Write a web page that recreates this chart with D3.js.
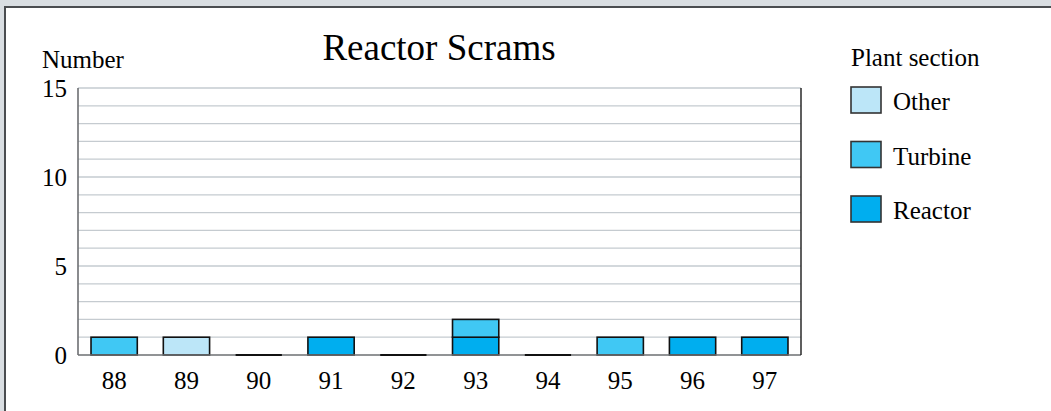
<!DOCTYPE html>
<html>
<head>
<meta charset="utf-8">
<script src="https://cdn.jsdelivr.net/npm/d3@7"></script>
<style>
  html, body { margin: 0; padding: 0; background: #d9dee2; overflow: hidden; }
  #chart { position: absolute; left: 0; top: 0; }
  text { font-family: "Liberation Serif", "Times New Roman", serif; fill: #000; }
</style>
</head>
<body>
<div id="chart"></div>
<script>
const years = ["88", "89", "90", "91", "92", "93", "94", "95", "96", "97"];
const reactor = [0, 0, 0, 1, 0, 1, 0, 0, 1, 1];
const turbine = [1, 0, 0, 0, 0, 1, 0, 1, 0, 0];
const other   = [0, 1, 0, 0, 0, 0, 0, 0, 0, 0];
const sections = ["Reactor", "Turbine", "Other"];
const legendOrder = ["Other", "Turbine", "Reactor"];
const yTicks = [0, 5, 10, 15];

const W = 1051, H = 411;
const margin = {top: 88, right: 250, bottom: 56, left: 78};
const width = 801 - margin.left;
const height = 355 - margin.top;

const color = d3.scaleOrdinal()
    .domain(["Other", "Turbine", "Reactor"])
    .range(["#bce6f8", "#40c8f4", "#00aeef"]);

const svgRoot = d3.select("#chart")
    .append("svg")
    .attr("width", W)
    .attr("height", H);

// white panel with border
svgRoot.append("rect")
    .attr("x", 5).attr("y", 7)
    .attr("width", W + 10).attr("height", H + 10)
    .attr("fill", "#fff")
    .attr("stroke", "#4a4d50")
    .attr("stroke-width", 2);

const svg = svgRoot.append("g")
    .attr("transform", `translate(${margin.left},${margin.top})`);

// Scales
const x = d3.scaleBand().domain(years).range([0, width]).paddingInner(0.36).paddingOuter(0.18);
const y = d3.scaleLinear().domain([0, 15]).range([height, 0]);

// Grid lines every 1
svg.append("g")
    .selectAll("line")
    .data(d3.range(1, 16))
    .join("line")
    .attr("x1", 0).attr("x2", width)
    .attr("y1", d => y(d)).attr("y2", d => y(d))
    .attr("stroke", "#c5cbd0")
    .attr("stroke-width", 1.3);

// Stacked data
const table = years.map((yr, i) => ({year: yr, Reactor: reactor[i], Turbine: turbine[i], Other: other[i]}));
const stacked = d3.stack().keys(sections)(table);

svg.append("g")
    .selectAll("g")
    .data(stacked)
    .join("g")
    .attr("fill", d => color(d.key))
    .selectAll("rect")
    .data(d => d.filter(s => s[1] > s[0]))
    .join("rect")
    .attr("x", d => x(d.data.year))
    .attr("width", x.bandwidth())
    .attr("y", d => y(d[1]))
    .attr("height", d => y(d[0]) - y(d[1]))
    .attr("stroke", "#111")
    .attr("stroke-width", 1.6);

// zero-total years drawn as flat marks on the baseline
const totals = years.map((yr, i) => reactor[i] + turbine[i] + other[i]);

// Axes
svg.append("line")
    .attr("x1", 0).attr("x2", width)
    .attr("y1", height).attr("y2", height)
    .attr("stroke", "#6d6f72").attr("stroke-width", 1.6);
svg.append("line")
    .attr("x1", 0).attr("x2", 0)
    .attr("y1", 0).attr("y2", height)
    .attr("stroke", "#6d6f72").attr("stroke-width", 1.6);
svg.append("line")
    .attr("x1", width).attr("x2", width)
    .attr("y1", 0).attr("y2", height)
    .attr("stroke", "#1a1a1a").attr("stroke-width", 1.4);

svg.append("g")
    .selectAll("line")
    .data(years.filter((yr, i) => totals[i] === 0))
    .join("line")
    .attr("x1", d => x(d)).attr("x2", d => x(d) + x.bandwidth())
    .attr("y1", y(0)).attr("y2", y(0))
    .attr("stroke", "#111").attr("stroke-width", 2);

// y tick labels
svg.append("g")
    .selectAll("text")
    .data(yTicks)
    .join("text")
    .attr("x", -11)
    .attr("y", d => y(d) + 9)
    .attr("text-anchor", "end")
    .style("font-size", "25px")
    .text(d => d);

// x tick labels
svg.append("g")
    .selectAll("text")
    .data(years)
    .join("text")
    .attr("x", d => x(d) + x.bandwidth() / 2)
    .attr("y", height + 34)
    .attr("text-anchor", "middle")
    .style("font-size", "25px")
    .text(d => d);

// Title and axis title
svgRoot.append("text")
    .attr("x", 439).attr("y", 60)
    .attr("text-anchor", "middle")
    .style("font-size", "37px")
    .text("Reactor Scrams");

svgRoot.append("text")
    .attr("x", 42).attr("y", 68)
    .style("font-size", "25px")
    .text("Number");

// Legend
const legend = svgRoot.append("g").attr("transform", "translate(851,0)");
legend.append("text")
    .attr("x", 0).attr("y", 66)
    .style("font-size", "25px")
    .text("Plant section");

const item = legend.selectAll("g.item")
    .data(legendOrder)
    .join("g")
    .attr("class", "item")
    .attr("transform", (d, i) => `translate(0,${87 + i * 54.5})`);

item.append("rect")
    .attr("width", 30).attr("height", 26)
    .attr("fill", d => color(d))
    .attr("stroke", "#333")
    .attr("stroke-width", 1.6);

item.append("text")
    .attr("x", 42).attr("y", 23)
    .style("font-size", "25px")
    .text(d => d);
</script>
</body>
</html>
